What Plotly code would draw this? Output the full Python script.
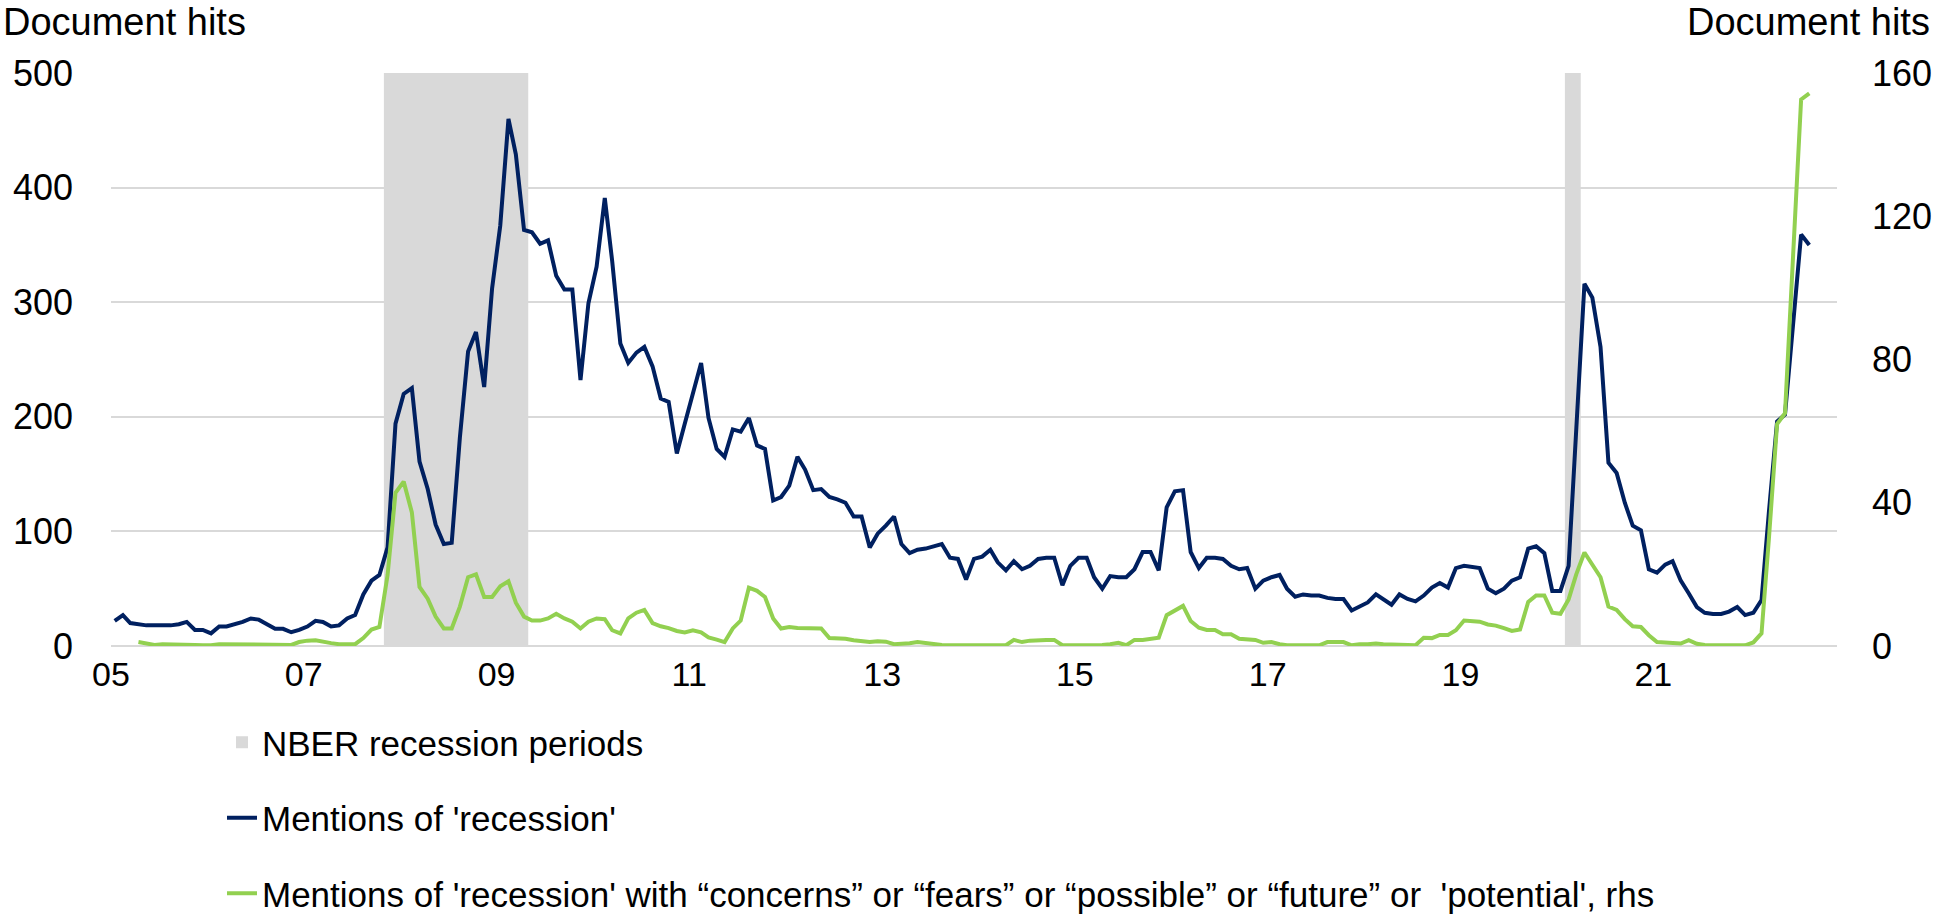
import pandas as pd
import plotly.graph_objects as go

# ---------------- data (monthly, Jan 2005 - Aug 2022) ----------------
start_month = "2005-01-01"

recession_mentions = [
    22, 27, 20, 19, 18, 18, 18, 18, 19, 21,
    14, 14, 11, 17, 17, 19, 21, 24, 23, 19,
    15, 15, 12, 14, 17, 22, 21, 17, 18, 24,
    27, 45, 57, 62, 86, 194, 220, 225, 161, 137,
    106, 89, 90, 182, 257, 274, 226, 312, 367, 460,
    429, 363, 361, 351, 354, 323, 311, 311, 232, 299,
    331, 391, 336, 264, 247, 256, 261, 244, 216, 213,
    168, 194, 221, 247, 199, 172, 165, 189, 187, 199,
    175, 172, 127, 130, 140, 165, 154, 136, 137, 130,
    128, 125, 113, 113, 86, 98, 105, 113, 89, 81,
    84, 85, 87, 89, 77, 76, 58, 76, 78, 84,
    73, 66, 74, 67, 70, 76, 77, 77, 53, 70,
    77, 77, 60, 50, 61, 60, 60, 67, 82, 82,
    66, 121, 135, 136, 82, 68, 77, 77, 76, 70,
    67, 68, 50, 57, 60, 62, 50, 43, 45, 44,
    44, 42, 41, 41, 31, 34, 38, 45, 41, 36,
    45, 41, 39, 44, 51, 55, 51, 68, 70, 69,
    68, 50, 46, 50, 57, 60, 85, 87, 81, 48,
    48, 70, 190, 316, 304, 261, 160, 151, 125, 105,
    101, 67, 64, 71, 74, 57, 46, 34, 29, 28,
    28, 30, 34, 27, 29, 40, 117, 196, 202, 280,
    359, 350,
]

recession_with_concerns = [
    None, None, None, 1.1, 0.6, 0.3, 0.5, 0.5, 0.5, 0.5,
    0.3, 0.2, 0.2, 0.5, 0.5, 0.5, 0.5, 0.5, 0.5, 0.5,
    0.5, 0.3, 0.3, 1.1, 1.5, 1.6, 1.1, 0.8, 0.5, 0.5,
    0.5, 2.2, 4.6, 5.3, 19.8, 42.8, 45.9, 37.3, 16.5, 13.2,
    8.2, 4.9, 4.9, 11, 19.2, 20, 13.7, 13.7, 16.7, 18.1,
    12.1, 8.2, 7.1, 7.1, 7.7, 9, 7.7, 6.8, 4.9, 6.8,
    7.7, 7.5, 4.4, 3.5, 7.7, 9.3, 10.1, 6.4, 5.5, 5.0,
    4.2, 3.8, 4.4, 3.8, 2.4, 1.8, 1.1, 4.9, 7.1, 16.3,
    15.4, 13.7, 7.7, 4.9, 5.3, 5.0, 4.9, 4.9, 4.9, 2.2,
    2.1, 2.0, 1.6, 1.4, 1.1, 1.3, 1.2, 0.5, 0.6, 0.8,
    1.1, 0.8, 0.5, 0.3, 0.2, 0.2, 0.2, 0.2, 0.2, 0.2,
    0.2, 0.2, 1.7, 1.1, 1.5, 1.7, 1.7, 1.7, 0.2, 0.2,
    0.2, 0.2, 0.2, 0.3, 0.5, 0.9, 0.2, 1.7, 1.7, 1.9,
    2.3, 8.6, 10.0, 11.2, 7.0, 5.1, 4.5, 4.5, 3.3, 3.3,
    2.0, 1.8, 1.7, 0.9, 1.1, 0.5, 0.2, 0.2, 0.2, 0.2,
    0.2, 1.1, 1.1, 1.1, 0.2, 0.5, 0.5, 0.7, 0.5, 0.5,
    0.5, 0.3, 0.2, 2.3, 2.2, 3.1, 3.1, 4.4, 7.1, 7.0,
    6.8, 6.0, 5.7, 5.0, 4.2, 4.6, 12.3, 14.1, 14.1, 9.3,
    9.0, 13, 20, 26.1, 22.5, 19.2, 11, 10.1, 7.5, 5.5,
    5.3, 3.0, 1.1, 1.0, 1.0, 0.7, 1.6, 0.6, 0.3, 0.2,
    0.2, 0.2, 0.2, 0.2, 1.0, 3.5, 30, 62, 65, 109,
    152.6, 154.3,
]

# NBER recession periods (first and last month, as drawn)
nber_start = ["2007-11", "2020-02"]
nber_end = ["2009-04", "2020-03"]

left_ticks = [0, 100, 200, 300, 400, 500]
right_ticks = [0, 40, 80, 120, 160]

# ---------------- derived ----------------
months = pd.date_range(start_month, periods=len(recession_mentions), freq="MS") + pd.Timedelta(days=14)

FONT = "Liberation Sans, Arial, Helvetica, sans-serif"
BLUE = "#002060"
GREEN = "#92D050"
GREY = "#D9D9D9"
TXT = "#000000"

W, H = 1937, 917
ML, MR, MT, MB = 111, 100, 73, 271
PW, PH = W - ML - MR, H - MT - MB

fig = go.Figure()

# recession bands (shapes in data coordinates, shown in the legend)
for i, (s, e) in enumerate(zip(nber_start, nber_end)):
    x0 = pd.Period(s, "M").start_time
    x1 = (pd.Period(e, "M") + 1).start_time
    fig.add_shape(
        type="rect", xref="x", yref="y",
        x0=x0, x1=x1, y0=left_ticks[0], y1=left_ticks[-1],
        fillcolor=GREY, line=dict(width=0), layer="between",
        name="NBER recession periods", showlegend=(i == 0),
        legendgroup="a", legendrank=1,
    )

fig.add_trace(go.Scatter(
    x=months, y=recession_mentions, name="Mentions of 'recession'",
    mode="lines", line=dict(color=BLUE, width=4),
    legendgroup="b", legendrank=2, yaxis="y",
))
fig.add_trace(go.Scatter(
    x=months, y=recession_with_concerns,
    name="Mentions of 'recession' with \u201cconcerns\u201d or \u201cfears\u201d or \u201cpossible\u201d or \u201cfuture\u201d or  'potential', rhs",
    mode="lines", line=dict(color=GREEN, width=4),
    legendgroup="c", legendrank=3, yaxis="y2", connectgaps=False,
))

fig.update_layout(
    width=W, height=H,
    margin=dict(l=ML, r=MR, t=MT, b=MB, pad=0, autoexpand=False),
    paper_bgcolor="white", plot_bgcolor="white",
    font=dict(family=FONT, size=34, color=TXT),
    hovermode=False,
    showlegend=True,
    legend=dict(
        x=(222 - ML) / PW, xanchor="left",
        y=-(713 - (H - MB)) / PH, yanchor="top",
        orientation="v", traceorder="grouped", tracegroupgap=27,
        font=dict(family=FONT, size=35, color=TXT),
        bgcolor="rgba(0,0,0,0)", itemwidth=30,
    ),
    xaxis=dict(
        type="date",
        range=["2005-01-01", "2022-11-28"],
        tick0="2005-01-01", dtick="M24", tickformat="%y",
        showgrid=False, zeroline=False, showline=False,
        ticks="", ticklabelstandoff=5,
        tickfont=dict(family=FONT, size=34, color=TXT),
    ),
    yaxis=dict(
        range=[left_ticks[0], left_ticks[-1]], tickvals=left_ticks,
        showgrid=True, gridcolor=GREY, gridwidth=1.5,
        zeroline=True, zerolinecolor=GREY, zerolinewidth=1.5,
        showline=False, ticks="", ticklabelstandoff=37,
        tickfont=dict(family=FONT, size=36, color=TXT),
    ),
    yaxis2=dict(
        range=[right_ticks[0], right_ticks[-1]], tickvals=right_ticks,
        overlaying="y", side="right",
        showgrid=False, zeroline=False, showline=False,
        ticks="", ticklabelstandoff=34,
        tickfont=dict(family=FONT, size=36, color=TXT),
    ),
    annotations=[
        dict(text="Document hits", xref="paper", yref="paper",
             x=-(ML - 1) / PW, y=1 + (MT - 22) / PH, xanchor="left", yanchor="middle",
             showarrow=False, font=dict(family=FONT, size=38, color=TXT)),
        dict(text="Document hits", xref="paper", yref="paper",
             x=1 + (1932 - (ML + PW)) / PW, y=1 + (MT - 22) / PH, xanchor="right", yanchor="middle",
             showarrow=False, font=dict(family=FONT, size=38, color=TXT)),
    ],
)

fig.write_html(
    "out.html",
    config={"displayModeBar": False},
    post_script="document.body.style.margin='0px';document.body.style.overflow='hidden';",
)
